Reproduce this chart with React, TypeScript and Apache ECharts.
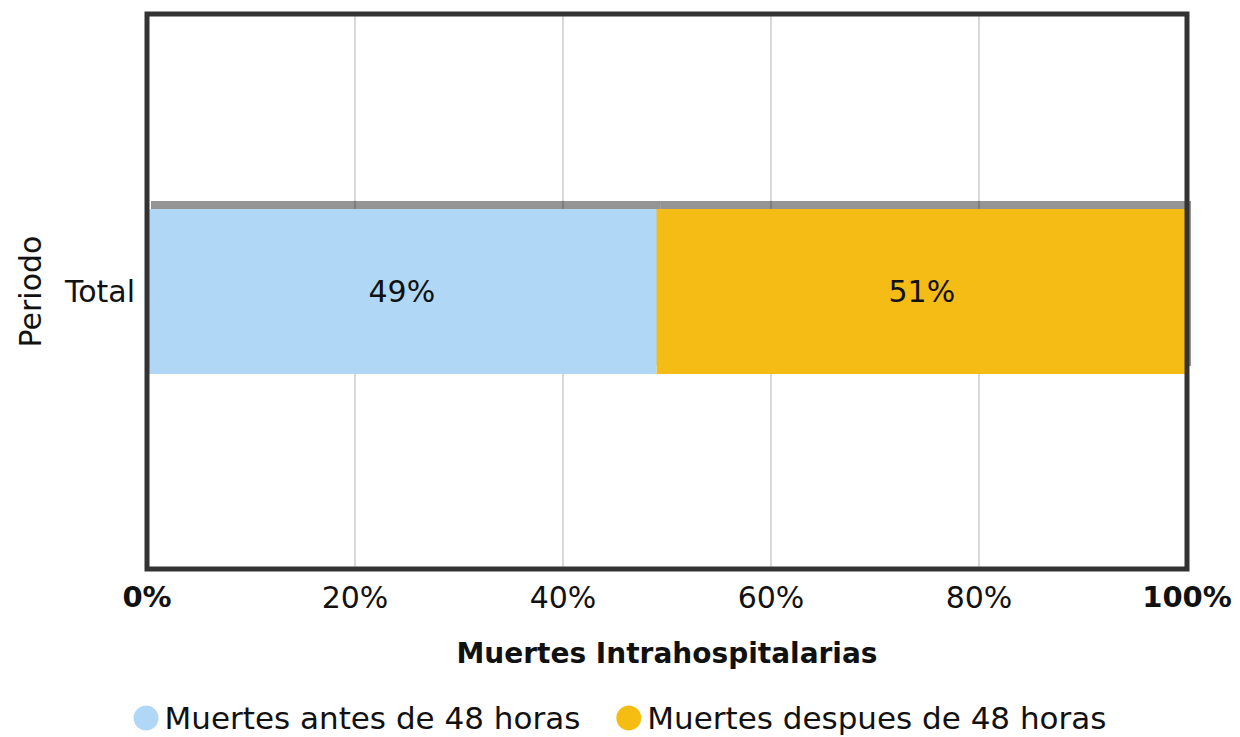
import React, { useEffect, useRef } from "react";
import * as echarts from "echarts";

const categories = ["Total"];
const antes = [49];
const despues = [51];
const seriesNames = ["Muertes antes de 48 horas", "Muertes despues de 48 horas"];
const colors = ["#b0d8f6", "#f5bc12"];
const FONT = "DejaVu Sans";

export default function App() {
  const ref = useRef<HTMLDivElement>(null);
  useEffect(() => {
    const chart = echarts.init(ref.current!, null, { renderer: "svg" });
    const shadow = {
      shadowColor: "rgba(0,0,0,0.42)",
      shadowOffsetX: 4,
      shadowOffsetY: -8,
      shadowBlur: 1,
    };
    const label = { show: true, position: "inside", formatter: "{c}%", fontSize: 30, color: "#111", fontFamily: FONT };
    chart.setOption({
      animation: false,
      textStyle: { fontFamily: FONT },
      grid: {
        left: 147,
        right: 53,
        top: 14,
        bottom: 168,
        show: true,
        borderColor: "#333",
        borderWidth: 5,
        z: 10,
      },
      legend: {
        top: 697,
        left: "center",
        icon: "circle",
        itemWidth: 25,
        itemHeight: 25,
        itemGap: 36,
        textStyle: { fontSize: 31, lineHeight: 32, color: "#111", fontFamily: FONT, padding: [0, 0, 0, 1] },
        data: seriesNames,
      },
      xAxis: {
        type: "value",
        min: 0,
        max: 100,
        interval: 20,
        name: "Muertes Intrahospitalarias",
        nameLocation: "middle",
        nameGap: 70,
        nameTextStyle: { fontSize: 28, fontWeight: "bold", color: "#111", fontFamily: FONT },
        axisLine: { show: false },
        axisTick: { show: false },
        splitLine: { lineStyle: { color: "#d8d8d8", width: 2 } },
        axisLabel: {
          margin: 13,
          fontSize: 30,
          color: "#111",
          fontFamily: FONT,
          formatter: (v: number) => (v === 0 || v === 100 ? `{b|${v}%}` : `${v}%`),
          rich: { b: { fontSize: 29, fontWeight: "bold", color: "#111", fontFamily: FONT } },
        },
      },
      yAxis: {
        type: "category",
        data: categories,
        name: "Periodo",
        nameLocation: "middle",
        nameGap: 102,
        nameTextStyle: { fontSize: 30, color: "#111", fontFamily: FONT },
        axisLine: { show: false },
        axisTick: { show: false },
        axisLabel: { margin: 12, fontSize: 30, color: "#111", fontFamily: FONT },
      },
      series: [
        {
          name: seriesNames[0],
          type: "bar",
          stack: "t",
          data: antes,
          barWidth: 165,
          itemStyle: { color: colors[0], ...shadow },
          label,
        },
        {
          name: seriesNames[1],
          type: "bar",
          stack: "t",
          data: despues,
          barWidth: 165,
          itemStyle: { color: colors[1], ...shadow },
          label,
        },
      ],
    });
    return () => chart.dispose();
  }, []);
  return <div ref={ref} style={{ width: 1240, height: 737, position: "absolute", left: 0, top: 0 }} />;
}
